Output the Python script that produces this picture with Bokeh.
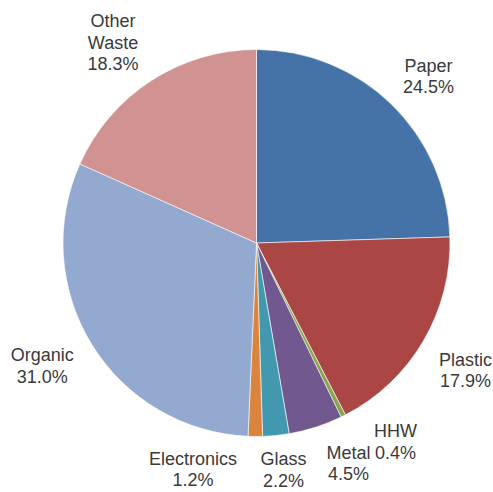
import math
from bokeh.plotting import figure
from bokeh.models import Range1d, ColumnDataSource
from bokeh.embed import file_html
from bokeh.resources import INLINE
from bokeh.core.properties import value

# ---- data ----
categories = ["Paper", "Plastic", "HHW", "Metal", "Glass", "Electronics", "Organic", "Other Waste"]
label_names = ["Paper", "Plastic", "HHW", "Metal", "Glass", "Electronics", "Organic", "Other\nWaste"]
shares = [24.5, 17.9, 0.4, 4.5, 2.2, 1.2, 31.0, 18.3]
colors = ["#4572A7", "#AA4643", "#89A54E", "#71588F", "#4198AF", "#DB843D", "#93A9CF", "#D19392"]

# ---- layout (page pixel coordinates, data y = 492 - page y) ----
W, H = 493, 492
cx, cy = 256.0, H - 242.5
R = 193.5
LABEL_D = 240.0
# per-label nudges (screen px, +x right, +y down)
nudge_x = [5, 2, 31.5, 18.6, 3, -62, -10, -13]
nudge_y = [6, 6, -15.5, -8, -12, -13.5, -3, 1]
LINE_H = 21.5

total = sum(shares)
starts, ends, mids = [], [], []
acc = 0.0
for s in shares:
    a0 = acc / total
    acc += s
    a1 = acc / total
    starts.append(math.pi / 2 - a0 * 2 * math.pi)
    ends.append(math.pi / 2 - a1 * 2 * math.pi)
    mids.append((a0 + a1) / 2 * 2 * math.pi)

p = figure(width=W, height=H, x_range=Range1d(0, W), y_range=Range1d(0, H),
           output_backend="svg", toolbar_location=None, min_border=0)
p.axis.visible = False
p.grid.visible = False
p.outline_line_color = None
p.background_fill_color = "white"
p.border_fill_color = "white"

src = ColumnDataSource(dict(x=[cx] * len(shares), y=[cy] * len(shares),
                            start=starts, end=ends, color=colors))
p.wedge(x="x", y="y", radius=R, start_angle="start", end_angle="end",
        direction="clock", fill_color="color", line_color="white",
        line_width=0.6, source=src)

tx, ty, tt = [], [], []
for i, name in enumerate(label_names):
    th = mids[i]
    lx = cx + LABEL_D * math.sin(th) + nudge_x[i]
    ly = cy + LABEL_D * math.cos(th) - nudge_y[i]
    lines = name.split("\n") + ["%.1f%%" % shares[i]]
    n = len(lines)
    for k, line in enumerate(lines):
        tx.append(lx)
        ty.append(ly + ((n - 1) / 2 - k) * LINE_H)
        tt.append(line)

p.text(x=tx, y=ty, text=tt, text_align="center", text_baseline="middle",
       text_font=value("Liberation Sans"), text_font_size="18px",
       text_color="#3a3a3a")

open("out.html", "w").write(file_html(p, INLINE))
